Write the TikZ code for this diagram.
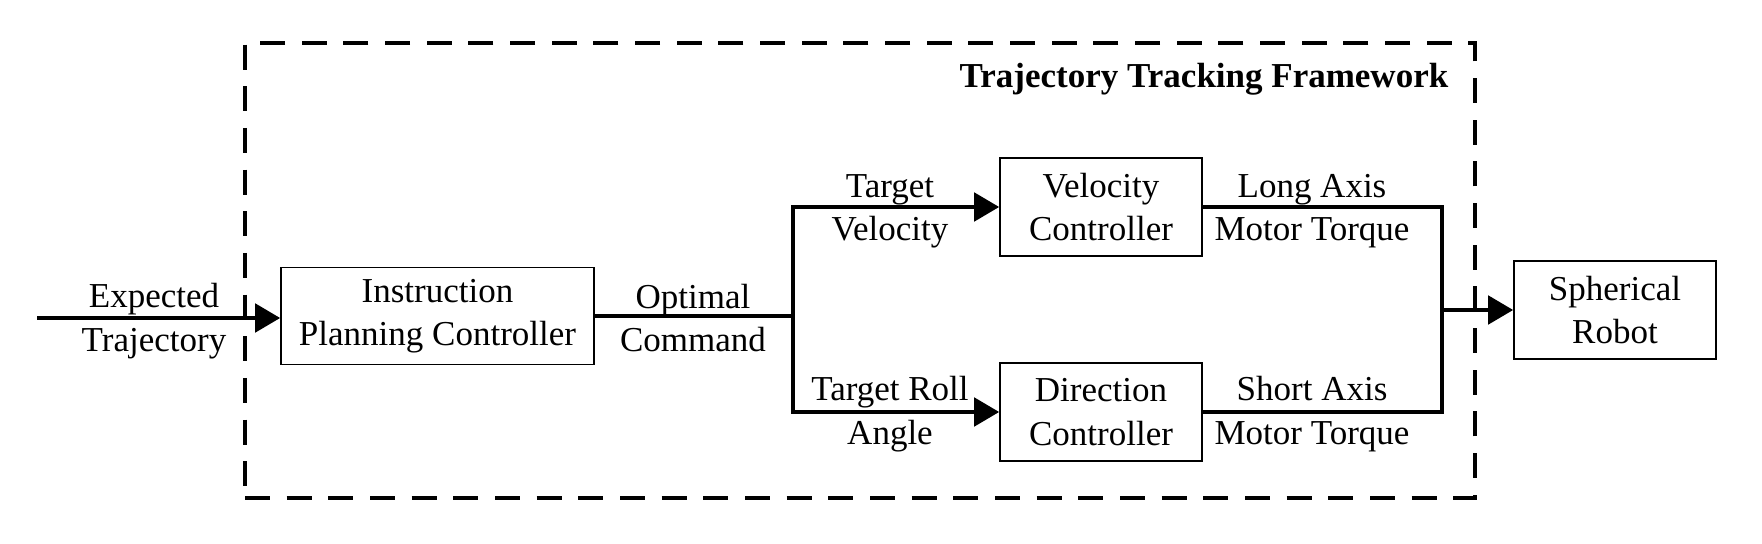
\documentclass[tikz,border=0pt]{standalone}
\usepackage{fontspec}
\setmainfont{Liberation Serif}
\usetikzlibrary{positioning}
\usetikzlibrary{arrows.meta}

\begin{document}
\begin{tikzpicture}[x=0.3pt,y=-0.3pt,
    font=\fontsize{10.5}{13}\selectfont,
    block/.style={draw,line width=0.5pt,align=center,inner sep=0pt,minimum width=60.6pt,minimum height=29.4pt},
    lbl/.style={align=center,inner sep=0pt},
    wire/.style={line width=1.2pt},
    arr/.style={wire,-{Triangle[length=7.5pt,width=8.5pt]}}]
\useasboundingbox (0,0) rectangle (1762,544);
\node (frame) [draw,line width=1.2pt,dash pattern=on 7.5pt off 5pt,minimum width=369pt,minimum height=136.5pt] at (860,270.5) {};
\node (title) [anchor=east,font=\fontsize{10.5}{13}\selectfont\bfseries] at (1460,79) {Trajectory Tracking Framework};

\node (ipc) [block,minimum width=93.9pt,minimum height=29.1pt] at (437.5,316) {Instruction\\Planning Controller};
\node (vc) [block] at (1101,207) {Velocity\\Controller};
\node (dc) [block] at (1101,412) {Direction\\Controller};
\node (sr) [block] at (1615,310) {Spherical\\Robot};

\coordinate (in) at (37,318);
\coordinate (j) at (793,316);
\coordinate (m) at (1442,310);

\draw[arr] (in) -- (ipc.west|-in);
\draw[wire] (ipc.east) -- (j);
\draw[arr] (j) |- (vc.west);
\draw[arr] (j) |- (dc.west);
\draw[wire] (vc.east) -| (m);
\draw[wire] (dc.east) -| (m);
\draw[arr] (m) -- (sr.west);

\node (l-in) [lbl] at (154,321) {Expected\\Trajectory};
\node (l-oc) [lbl] at (693,318) {Optimal\\Command};
\node (l-tv) [lbl] at (890,211) {Target\\Velocity};
\node (l-tr) [lbl] at (890,414) {Target Roll\\Angle};
\node (l-la) [lbl] at (1312,211) {Long Axis\\Motor Torque};
\node (l-sa) [lbl] at (1312,414) {Short Axis\\Motor Torque};
\end{tikzpicture}
\end{document}
